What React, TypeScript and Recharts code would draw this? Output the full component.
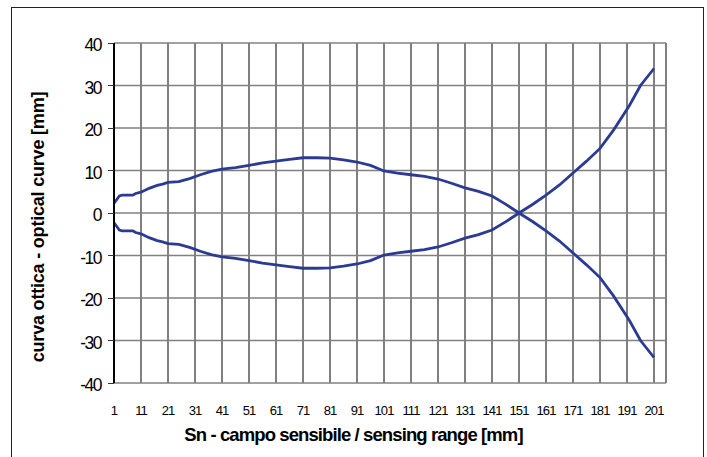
import React from 'react';
import { LineChart, Line, XAxis, YAxis, CartesianGrid, ReferenceLine } from 'recharts';

const xValues = [1, 3, 4, 8, 9, 11, 14, 17, 19, 21, 25, 29, 33, 37, 41, 46, 51, 56, 61, 66, 71, 76, 81, 86, 91, 96, 101, 106, 111, 116, 121, 126, 131, 136, 141, 146, 151, 156, 161, 166, 171, 176, 181, 186, 191, 192, 196, 201];
const upperCurve = [2.3, 4.0, 4.2, 4.2, 4.6, 4.9, 5.8, 6.5, 6.8, 7.2, 7.4, 8.1, 9.0, 9.8, 10.3, 10.7, 11.2, 11.8, 12.2, 12.6, 13.0, 13.0, 12.9, 12.5, 12.0, 11.2, 9.9, 9.4, 9.0, 8.6, 8.0, 7.0, 5.9, 5.1, 4.0, 2.1, 0, -2.0, -4.2, -6.6, -9.4, -12.2, -15.2, -19.5, -24.4, -25.4, -30.0, -34.0];
const lowerCurve = [-2.3, -4.0, -4.2, -4.2, -4.6, -4.9, -5.8, -6.5, -6.8, -7.2, -7.4, -8.1, -9.0, -9.8, -10.3, -10.7, -11.2, -11.8, -12.2, -12.6, -13.0, -13.0, -12.9, -12.5, -12.0, -11.2, -9.9, -9.4, -9.0, -8.6, -8.0, -7.0, -5.9, -5.1, -4.0, -2.1, 0, 2.0, 4.2, 6.6, 9.4, 12.2, 15.2, 19.5, 24.4, 25.4, 30.0, 34.0];
const xTicks = [1, 11, 21, 31, 41, 51, 61, 71, 81, 91, 101, 111, 121, 131, 141, 151, 161, 171, 181, 191, 201];
const yTicks = [-40, -30, -20, -10, 0, 10, 20, 30, 40];
const xMax = 205.44;

const xTitle = 'Sn - campo sensibile / sensing range [mm]';
const yTitle = 'curva ottica - optical curve [mm]';

const data = xValues.map((x, i) => ({ x, upper: upperCurve[i], lower: lowerCurve[i] }));

const FONT = '"Liberation Sans", Arial, Helvetica, sans-serif';
const LINE = '#2b3b93';

export default function App() {
  return (
    <div style={{ position: 'absolute', left: 0, top: 0, width: 707, height: 457, overflow: 'hidden', background: '#fff' }}>
      <style>{`.vgrid line, .hgrid line, .recharts-reference-line line, .recharts-yAxis line { shape-rendering: crispEdges; }`}</style>
      <div style={{ position: 'absolute', left: 11, top: 7, width: 691, height: 500, border: '1.5px solid #222' }} />
      <div style={{ position: 'absolute', left: 0, top: 0 }}>
        <LineChart width={707} height={457} data={data} margin={{ top: 43, right: 41, left: 54, bottom: 44 }}>
          <CartesianGrid className="vgrid" horizontal={false} vertical={true} stroke="#000" strokeWidth={1} />
          <CartesianGrid className="hgrid" horizontal={true} vertical={false} stroke="#808080" strokeWidth={1.5} />
          <ReferenceLine x={xMax} stroke="#808080" strokeWidth={1.5} ifOverflow="extendDomain" />
          <XAxis
            dataKey="x"
            type="number"
            domain={[1, xMax]}
            ticks={xTicks}
            interval={0}
            height={30}
            axisLine={false}
            tickLine={false}
            tickSize={0}
            tickMargin={23}
            tick={{ fill: '#000', fontSize: 13, fontFamily: FONT, letterSpacing: -0.9 }}
            allowDataOverflow
          />
          <YAxis
            type="number"
            domain={[-40, 40]}
            ticks={yTicks}
            interval={0}
            width={60}
            axisLine={{ stroke: '#000', strokeWidth: 1.5 }}
            tickLine={{ stroke: '#333', strokeWidth: 1 }}
            tickSize={6}
            tickMargin={7}
            tick={{ fill: '#000', fontSize: 17.5, fontFamily: FONT, letterSpacing: -1.5, dy: 2 }}
          />
          <Line dataKey="upper" type="linear" stroke={LINE} strokeWidth={2.8} dot={false} isAnimationActive={false} />
          <Line dataKey="lower" type="linear" stroke={LINE} strokeWidth={2.8} dot={false} isAnimationActive={false} />
        </LineChart>
      </div>
      <div style={{ position: 'absolute', left: 0, width: 707, top: 425, textAlign: 'center', fontFamily: FONT, fontWeight: 'bold', fontSize: 18.5, letterSpacing: -0.9, lineHeight: '20px', color: '#000', whiteSpace: 'nowrap' }}>
        {xTitle}
      </div>
      <div style={{ position: 'absolute', left: 38, top: 227, width: 0, height: 0 }}>
        <div style={{ position: 'absolute', left: -200, top: -10, width: 400, height: 20, lineHeight: '20px', textAlign: 'center', transform: 'rotate(-90deg)', fontFamily: FONT, fontWeight: 'bold', fontSize: 18, letterSpacing: -0.2, color: '#000', whiteSpace: 'nowrap' }}>
          {yTitle}
        </div>
      </div>
    </div>
  );
}
